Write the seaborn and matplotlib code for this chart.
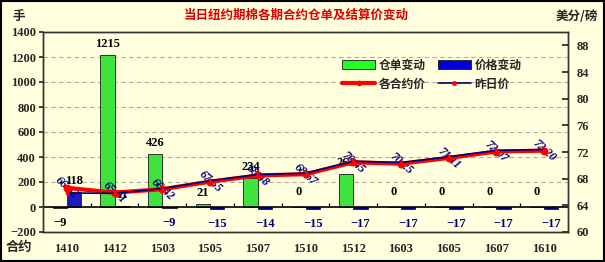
import matplotlib
matplotlib.use("Agg")
import matplotlib.pyplot as plt
import matplotlib.patches as mpatches
from matplotlib.lines import Line2D
import numpy as np
import pandas as pd
import seaborn as sns

# ---- data ----
contracts = ["1410", "1412", "1503", "1505", "1507", "1510", "1512", "1603", "1605", "1607", "1610"]
warrant_change = [-9, 1215, 426, 21, 234, 0, 261, 0, 0, 0, 0]          # 仓单变动 (手)
price_change = [118, 11, -9, -15, -14, -15, -17, -17, -17, -17, -17]   # 价格变动
settle_price = [66.62, 65.91, 66.42, 67.55, 68.48, 68.67, 70.45, 70.25, 71.11, 72.07, 72.20]  # 各合约价
prev_price = [65.85, 65.80, 66.51, 67.70, 68.62, 68.82, 70.62, 70.42, 71.28, 72.24, 72.37]    # 昨日价

sns.set_theme(style="white")
CJK = ["Noto Sans CJK SC", "DejaVu Sans"]
NUM = ["Liberation Serif", "DejaVu Serif"]
plt.rcParams["font.family"] = CJK

BG = "#FFFFDD"
GREEN = "#22FF22"
BLUE = "#0000DD"
NAVY = "#00007A"
RED = "#FF0000"

fig = plt.figure(figsize=(6.05, 2.62), dpi=100, facecolor=BG)
ax = fig.add_axes([43/605, 30/262, 525/605, 200/262])
ax.set_facecolor(BG)

df = pd.DataFrame({
    "合约": contracts * 2,
    "值": warrant_change + price_change,
    "系列": ["仓单变动"] * len(contracts) + ["价格变动"] * len(contracts),
})
sns.barplot(data=df, x="合约", y="值", hue="系列", order=contracts,
            hue_order=["仓单变动", "价格变动"],
            palette={"仓单变动": GREEN, "价格变动": BLUE},
            width=0.6, edgecolor="#1a1a1a", linewidth=0.6, ax=ax, legend=False)

n = len(contracts)
bars = ax.patches[:2 * n]
green_bars = bars[:n]
blue_bars = bars[n:]
for b, v in zip(blue_bars, price_change):
    if v < 0:
        b.set_facecolor(NAVY)

ax.set_ylim(-200, 1400)
ax.set_yticks(np.arange(-200, 1401, 200))
ax.set_xlim(-0.5, n - 0.5)
for y in range(200, 1201, 200):
    ax.axhline(y, color="#b0b0a0", lw=0.8, ls=(0, (4, 3)), zorder=0)
ax.axhline(0, color="black", lw=1.2, zorder=3)
ax.vlines(np.arange(n - 1) + 0.5, 0, 30, color="black", lw=0.9, zorder=3)

ax.set_xlabel("")
ax.set_ylabel("")
ax.tick_params(axis="x", length=0, pad=8)
ax.tick_params(axis="y", length=3, direction="out", pad=2)
for lab in ax.get_xticklabels() + ax.get_yticklabels():
    lab.set_family(NUM)
    lab.set_fontweight("bold")
    lab.set_fontsize(9)
for s in ax.spines.values():
    s.set_color("#333333")
    s.set_linewidth(1.0)

# bar labels
def label_bars(barlist, values, color):
    for b, v in zip(barlist, values):
        cx = b.get_x() + b.get_width() / 2
        if v < 0:
            ax.annotate(f"\u2212{abs(v)}", (cx, v), xytext=(0, -11),
                        textcoords="offset points", ha="center", va="center",
                        fontsize=9, fontweight="bold", family=NUM, color=color, zorder=6)
        else:
            ax.annotate(str(v), (cx, v), xytext=(0, 8 if v > 0 else 11),
                        textcoords="offset points", ha="center", va="center",
                        fontsize=9, fontweight="bold", family=NUM, color="black", zorder=6)

label_bars(green_bars, warrant_change, "black")
label_bars(blue_bars, price_change, NAVY)

# ---- right axis: prices ----
ax2 = ax.twinx()
ax2.set_ylim(60, 90)
ax2.set_yticks(np.arange(60, 89, 4))
xs = np.arange(n)
pdf = pd.DataFrame({"x": xs, "今": settle_price, "昨": prev_price})
sns.lineplot(data=pdf, x="x", y="今", color=RED, lw=3, marker="o", ms=5,
             markeredgecolor=RED, ax=ax2, zorder=4)
sns.lineplot(data=pdf, x="x", y="昨", color=NAVY, lw=1.2, marker="o", ms=2,
             markerfacecolor=RED, markeredgecolor=RED, ax=ax2, zorder=5)
for x, p in zip(xs, settle_price):
    ax2.text(x, p, f"{p:.2f}", rotation=-42, ha="center", va="center",
             rotation_mode="anchor", fontsize=8.5, fontweight="bold", style="italic",
             family=NUM, color=NAVY, zorder=3)
ax2.set_xlim(-0.5, n - 0.5)
ax2.set_xlabel("")
ax2.set_ylabel("")
ax2.tick_params(axis="y", length=4, direction="in", pad=6)
for lab in ax2.get_yticklabels():
    lab.set_family(NUM)
    lab.set_fontweight("bold")
    lab.set_fontsize(9)
for s in ax2.spines.values():
    s.set_color("#333333")
    s.set_linewidth(1.0)

# legend
handles = [
    mpatches.Patch(facecolor=GREEN, edgecolor="#1a1a1a", lw=0.6, label="仓单变动"),
    Line2D([], [], color=RED, lw=3, marker="o", ms=3, label="各合约价"),
    mpatches.Patch(facecolor=BLUE, edgecolor="#1a1a1a", lw=0.6, label="价格变动"),
    Line2D([], [], color=NAVY, lw=1.2, marker="o", ms=2.5, markerfacecolor=RED,
           markeredgecolor=RED, label="昨日价"),
]
ax2.legend(handles=handles, ncol=2, loc="upper left", bbox_to_anchor=(0.55, 0.92),
           frameon=False, prop={"family": CJK, "weight": "bold", "size": 8.5},
           handlelength=2.8, handleheight=0.9, columnspacing=1.0, labelspacing=0.5,
           handletextpad=0.3)

# titles & units
fig.text(0.49, 0.94, "当日纽约期棉各期合约仓单及结算价变动", ha="center", va="center",
         color="#DD0000", fontsize=9, fontweight="bold", family=CJK)
fig.text(12/605, 1 - 16/262, "手", ha="left", va="center", fontsize=9,
         fontweight="bold", family=CJK)
fig.text(598/605, 1 - 17/262, "美分/磅", ha="right", va="center", fontsize=9,
         fontweight="bold", family=CJK)
fig.text(6/605, 1 - 247/262, "合约", ha="left", va="center", fontsize=9.5,
         fontweight="bold", family=CJK)

fig.patches.append(mpatches.Rectangle((0.001, 0.002), 0.997, 0.995, transform=fig.transFigure,
                                      fill=False, edgecolor="black", lw=1.5))

fig.savefig("out.png", dpi=100, facecolor=BG)
